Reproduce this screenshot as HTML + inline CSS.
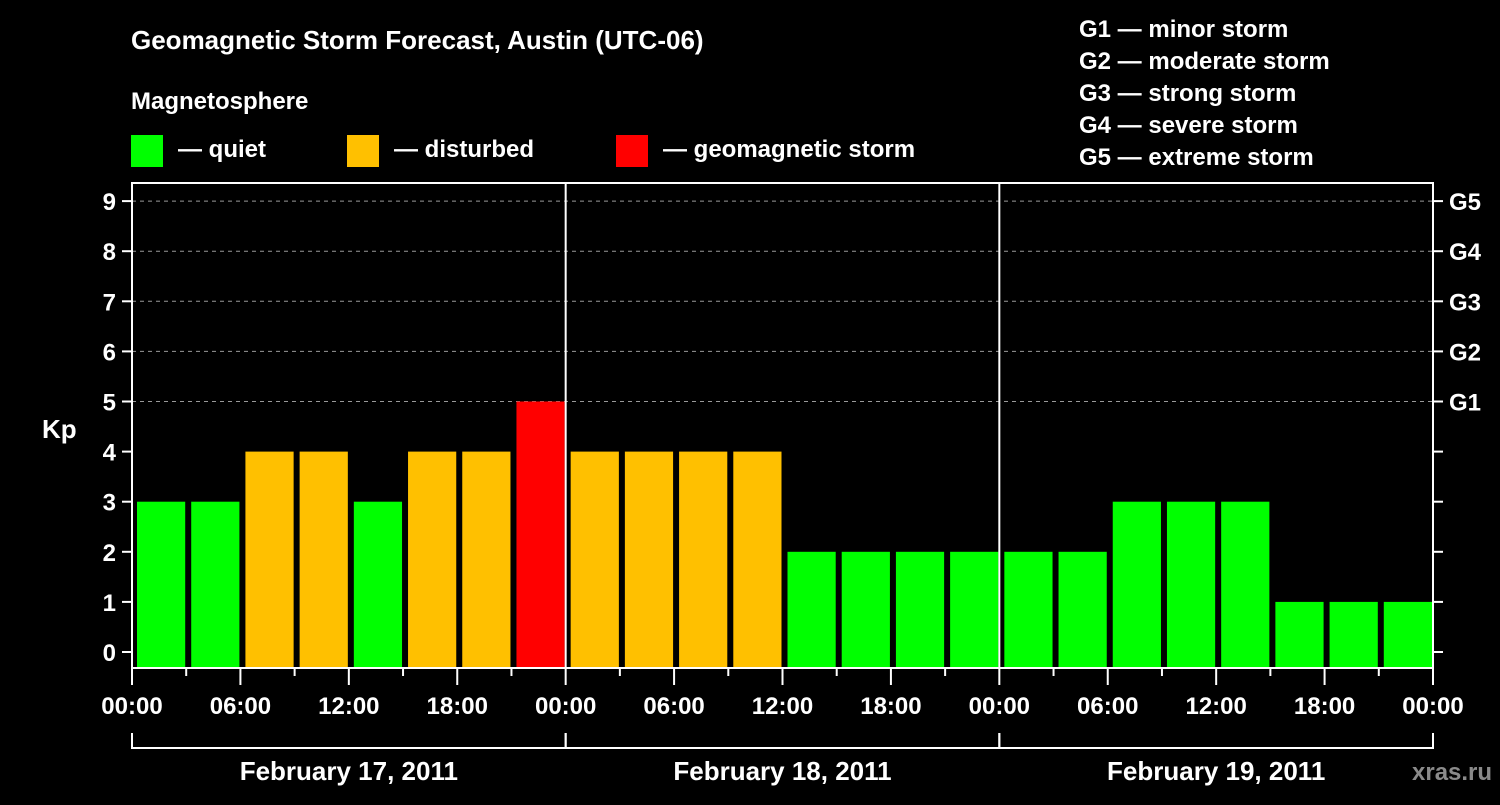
<!DOCTYPE html>
<html><head><meta charset="utf-8"><style>
body{margin:0;background:#000;width:1500px;height:800px;overflow:hidden}
svg text{font-family:"Liberation Sans",Arial,sans-serif;font-weight:bold;fill:#fff}
</style></head><body>
<svg id="c" width="1500" height="800">
<rect width="1500" height="800" fill="#000"/>
<text x="131" y="49" font-size="26">Geomagnetic Storm Forecast, Austin (UTC-06)</text>
<text x="131" y="109" font-size="24">Magnetosphere</text>
<g><rect x="131" y="135" width="32" height="32" fill="#00ff00"/><text x="178" y="157" font-size="24">— quiet</text></g>
<g><rect x="347" y="135" width="32" height="32" fill="#ffc000"/><text x="394" y="157" font-size="24">— disturbed</text></g>
<g><rect x="616" y="135" width="32" height="32" fill="#ff0000"/><text x="663" y="157" font-size="24">— geomagnetic storm</text></g>
<g font-size="24">
<text x="1079" y="37">G1 — minor storm</text>
<text x="1079" y="69">G2 — moderate storm</text>
<text x="1079" y="101">G3 — strong storm</text>
<text x="1079" y="133">G4 — severe storm</text>
<text x="1079" y="165">G5 — extreme storm</text>
</g>
<text x="42" y="438" font-size="26">Kp</text>
<text x="1412" y="780" font-size="24" fill="#888" style="fill:#8a8a8a">xras.ru</text>
<g id="g"></g>
</svg>
<script>
const kpValues=[3,3,4,4,3,4,4,5,4,4,4,4,2,2,2,2,2,2,3,3,3,1,1,1];
const yTicks=[0,1,2,3,4,5,6,7,8,9];
const gLabels=["G1","G2","G3","G4","G5"];
const timeLabels=["00:00","06:00","12:00","18:00"];
const dayLabels=["February 17, 2011","February 18, 2011","February 19, 2011"];
const NS="http://www.w3.org/2000/svg";
const g=document.getElementById('g');
const L=132,R=1433,T=183,B=668;
const slot=(R-L)/kpValues.length;
const y=v=>652-v*50.1;
const x=i=>L+i*slot;
function mk(t,a){const e=document.createElementNS(NS,t);for(const k in a)e.setAttribute(k,a[k]);g.appendChild(e);return e;}
function col(v){return v>=5?"#ff0000":v>=4?"#ffc000":"#00ff00";}
yTicks.forEach(v=>{
 if(v>=5){const l=mk('line',{x1:L,x2:R,y1:y(v),y2:y(v),stroke:'#999','stroke-dasharray':'4,4','stroke-width':1});
 
 }
 mk('line',{x1:L-10,x2:L,y1:y(v),y2:y(v),stroke:'#fff','stroke-width':2});
 mk('line',{x1:R,x2:R+10,y1:y(v),y2:y(v),stroke:'#fff','stroke-width':2});
 const t=mk('text',{x:L-16,y:y(v)+9,'font-size':24,'text-anchor':'end'});t.textContent=v;
 
 
});
gLabels.forEach((s,i)=>{const t=mk('text',{x:R+16,y:y(5+i)+9,'font-size':24});t.textContent=s;
 
 });
kpValues.forEach((v,i)=>{
 const r=mk('rect',{x:x(i)+5,y:y(v),width:slot-6,height:B-y(v),fill:col(v)});
 
 
});
[1,2].forEach(d=>{mk('line',{x1:x(d*8),x2:x(d*8),y1:T,y2:B,stroke:'#fff','stroke-width':2});});
const f=mk('rect',{x:L,y:T,width:R-L,height:B-T,fill:'none',stroke:'#fff','stroke-width':2});


for(let i=0;i<=24;i++){mk('line',{x1:x(i),x2:x(i),y1:B,y2:B+(i%2?8:17),stroke:'#fff','stroke-width':2});}
for(let i=0;i<=12;i++){const t=mk('text',{x:x(i*2),y:714,'font-size':24,'text-anchor':'middle'});t.textContent=timeLabels[i%4];
 
 }
dayLabels.forEach((s,d)=>{
 const a=x(d*8),b=x(d*8+8);
 mk('path',{d:`M${a},733V748H${b}V733`,fill:'none',stroke:'#fff','stroke-width':2});
 const t=mk('text',{x:(a+b)/2,y:780,'font-size':26,'text-anchor':'middle'});t.textContent=s;
 
 
});
</script>
</body></html>
